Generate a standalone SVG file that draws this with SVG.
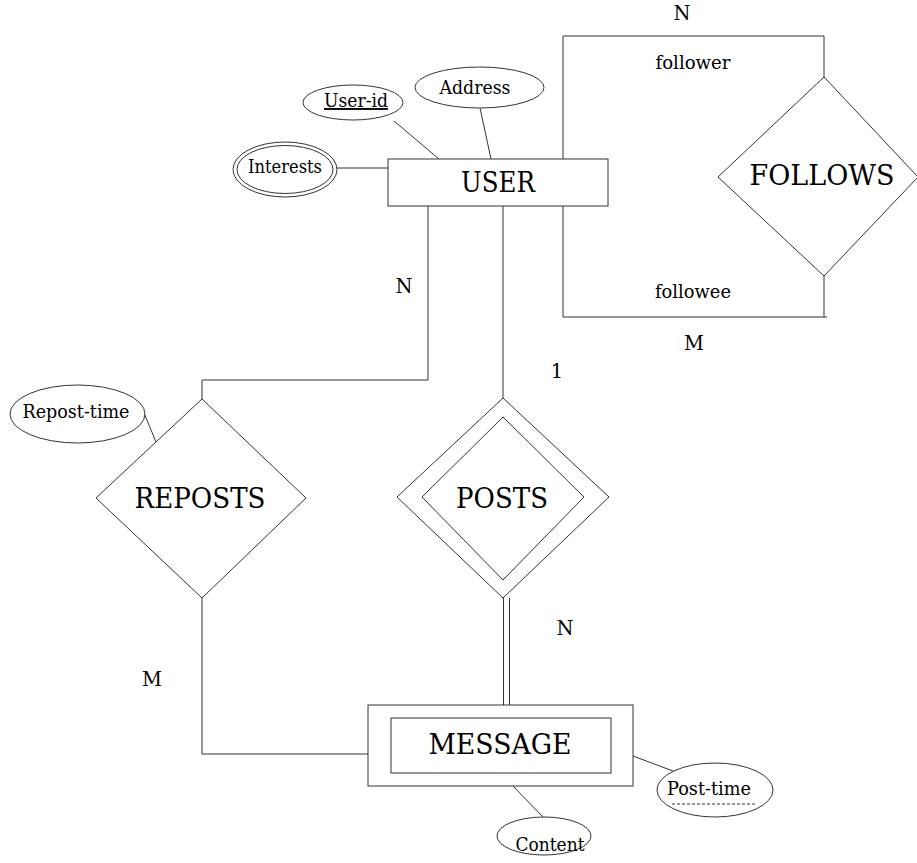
<svg xmlns="http://www.w3.org/2000/svg" width="917" height="863" viewBox="0 0 917 863">
<style>
.s{fill:none;stroke:#333;stroke-width:1}
.w{fill:#fff;stroke:#333;stroke-width:1}
text{font-family:'DejaVu Serif','Noto Serif',serif;fill:#000;text-anchor:middle}
.b{font-size:27.5px}
.m{font-size:19px}
.c{font-size:19.5px}
</style>
<rect width="917" height="863" fill="#fff"/>
<g id="connectors" class="s">
<line x1="394" y1="121" x2="439" y2="159"/>
<line x1="480" y1="108" x2="491" y2="159"/>
<line x1="337" y1="168" x2="388" y2="168"/>
<polyline points="563,159 563,36 824,36 824,77"/>
<polyline points="563,206 563,317 827,317"/>
<line x1="824" y1="276" x2="824" y2="317"/>
<polyline points="428,206 428,380 202,380 202,399"/>
<line x1="503" y1="206" x2="503" y2="398"/>
<line x1="144" y1="413" x2="156" y2="442"/>
<line x1="503.5" y1="598" x2="503.5" y2="705"/>
<line x1="509.5" y1="598" x2="509.5" y2="705"/>
<polyline points="202,598 202,754 368,754"/>
<line x1="633" y1="756" x2="673" y2="771"/>
<line x1="513" y1="786" x2="543" y2="817"/>
</g>
<g id="user">
<rect class="w" x="388" y="159" width="220" height="47"/>
<text class="b" x="498" y="192" textLength="74" lengthAdjust="spacingAndGlyphs">USER</text>
</g>
<g id="user-id">
<ellipse class="w" cx="353" cy="102.5" rx="50" ry="17.5"/>
<text class="m" x="356" y="107" textLength="64" lengthAdjust="spacingAndGlyphs" text-decoration="underline">User-id</text>
</g>
<g id="address">
<ellipse class="w" cx="479.5" cy="87.5" rx="64.5" ry="20.5"/>
<text class="m" x="475" y="94" textLength="71" lengthAdjust="spacingAndGlyphs">Address</text>
</g>
<g id="interests">
<ellipse class="w" cx="285" cy="169.5" rx="52" ry="27.5"/>
<ellipse class="s" cx="285" cy="169.5" rx="48" ry="24"/>
<text class="m" x="285" y="173" textLength="74" lengthAdjust="spacingAndGlyphs">Interests</text>
</g>
<g id="follows">
<polygon class="w" points="824,77 918,177 824,276 718,177"/>
<text class="b" x="822" y="185" textLength="145" lengthAdjust="spacingAndGlyphs">FOLLOWS</text>
</g>
<g id="reposts">
<polygon class="w" points="202,399 306,498 202,598 96,498"/>
<text class="b" x="200" y="508" textLength="131" lengthAdjust="spacingAndGlyphs">REPOSTS</text>
</g>
<g id="repost-time">
<ellipse class="w" cx="77.5" cy="414" rx="67.5" ry="29"/>
<text class="m" x="76" y="418" textLength="107" lengthAdjust="spacingAndGlyphs">Repost-time</text>
</g>
<g id="posts">
<polygon class="w" points="503,398 609,497 503,598 397,497"/>
<polygon class="s" points="503,417 584,497 503,580 422,497"/>
<text class="b" x="502" y="508" textLength="92" lengthAdjust="spacingAndGlyphs">POSTS</text>
</g>
<g id="message">
<rect class="w" x="368" y="705" width="265" height="81"/>
<rect class="s" x="391" y="718" width="220" height="55"/>
<text class="b" x="500" y="754" textLength="143" lengthAdjust="spacingAndGlyphs">MESSAGE</text>
</g>
<g id="post-time">
<ellipse class="w" cx="715" cy="790" rx="58" ry="27"/>
<text class="m" x="709" y="795" textLength="84" lengthAdjust="spacingAndGlyphs">Post-time</text>
<line x1="672" y1="804" x2="755" y2="804" stroke="#333" stroke-width="1" stroke-dasharray="3,2"/>
</g>
<g id="content">
<ellipse class="w" cx="544" cy="836" rx="47" ry="19"/>
<text class="m" x="550" y="851" textLength="69" lengthAdjust="spacingAndGlyphs">Content</text>
</g>
<g id="labels">
<text class="c" x="682" y="20">N</text>
<text class="m" x="693" y="69" textLength="75" lengthAdjust="spacingAndGlyphs">follower</text>
<text class="m" x="693" y="298" textLength="76" lengthAdjust="spacingAndGlyphs">followee</text>
<text class="c" x="694" y="350">M</text>
<text class="c" x="404" y="293">N</text>
<text class="c" x="557" y="378">1</text>
<text class="c" x="565" y="635">N</text>
<text class="c" x="152" y="686">M</text>
</g>
</svg>
